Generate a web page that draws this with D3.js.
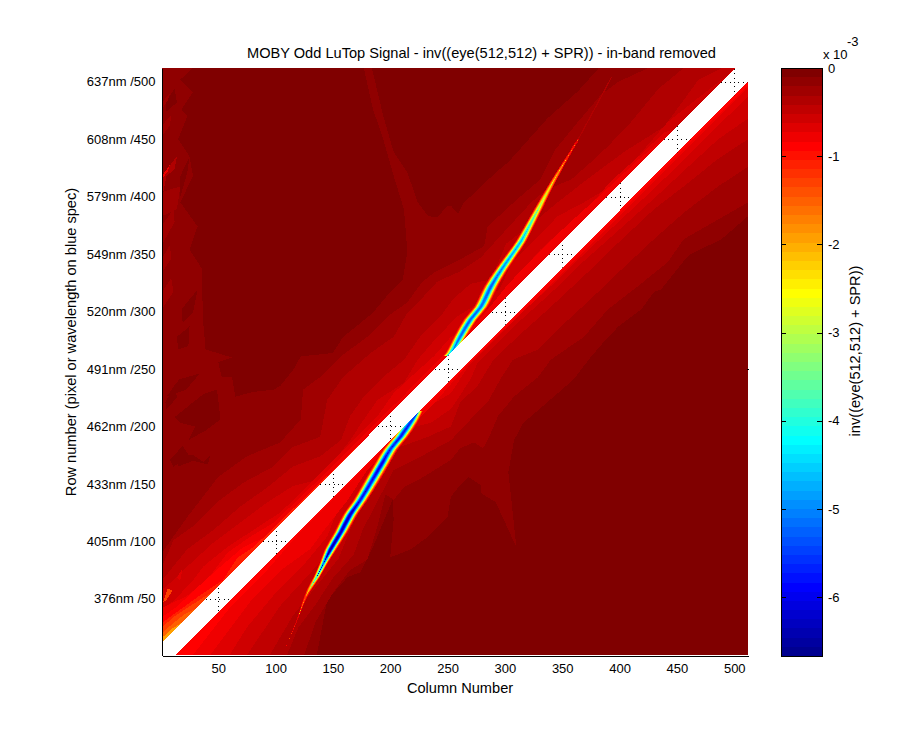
<!DOCTYPE html>
<html><head><meta charset="utf-8">
<script src="https://cdn.jsdelivr.net/npm/d3@7"></script>
<style>html,body{margin:0;background:#fff}svg{display:block}text{font-family:"Liberation Sans",Arial,sans-serif;fill:#000}</style>
</head><body><svg id="c" width="900" height="750"></svg>
<script>
const titleText="MOBY Odd LuTop Signal - inv((eye(512,512) + SPR)) - in-band removed";
const xLabelText="Column Number";
const yLabelText="Row number (pixel or wavelength on blue spec)";
const barLabelText="inv((eye(512,512) + SPR))";
const xTicks=[50,100,150,200,250,300,350,400,450,500];
const yTicks=[50,100,150,200,250,300,350,400,450,500];
const yWave=["376nm","405nm","433nm","462nm","491nm","520nm","549nm","579nm","608nm","637nm"];
const barTicks=[0,-1,-2,-3,-4,-5,-6];
const colorMin=-6.667, levels=64;
const whiteBand=[[1,12],[1,1],[13,1],[512,500],[512,512],[501,512]];

// level-0 (darkest) regions, [column,row]
const darkUL=[[28,512],[177,512],[185,476],[193,453],[203,418],[212,389],[215,352],[211,328],[200,317],[185,299],[174,290],[159,278],[150,264],[142,263],[122,261],[116,250],[104,235],[98,232],[81,230],[65,226],[62,243],[53,243],[50,256],[62,260],[39,267],[37,290],[36,319],[36,337],[25,354],[32,374],[17,395],[28,418],[25,435],[15,450],[23,470],[18,476],[28,491],[17,502]];
const darkTR=[[184,512],[382,512],[364,492],[337,468],[303,430],[292,421],[270,400],[264,395],[259,385],[253,392],[250,392],[241,382],[233,383],[224,395],[215,421],[203,439],[194,470]];
const darkLR=[[512,383],[489,363],[462,350],[456,344],[436,319],[430,317],[419,302],[399,287],[384,271],[373,258],[360,241],[337,221],[316,203],[308,188],[303,160],[305,142],[310,95],[292,134],[279,142],[279,149],[268,156],[261,149],[253,139],[250,121],[233,104],[218,93],[200,86],[203,119],[202,136],[185,95],[174,73],[163,69],[145,49],[136,1],[512,1]];
const darkPatches=[
 [[12,208],[28,221],[37,228],[49,232],[52,206],[40,197],[24,188],[30,200],[17,203]],
 [[14,174],[28,175],[37,169],[43,175],[41,167],[28,170],[15,165]],
 [[4,221],[12,236],[14,225],[5,215]],
 [[18,302],[32,319],[28,299],[19,290]],
 [[14,278],[25,287],[24,270],[15,267]],
 [[4,482],[12,494],[14,482],[5,474]],
 [[17,418],[25,435],[23,421],[17,400]],
 [[8,171],[19,183],[25,174],[11,165]],
 [[5,226],[16,241],[34,246],[22,232]]
];
// small patches on the left edge
const leftPatchA=[[1,417],[10,430],[14,435],[12,424],[5,418],[1,398]];
const leftPatchB=[[1,404],[17,409],[14,389],[1,383]];
const leftPatchC=[[1,462],[9,471],[8,462],[1,453]];
const leftPatchD=[[1,482],[8,490],[6,484],[1,476]];
const leftPatchE=[[1,375],[11,389],[12,378],[1,358]];
const leftPatchF=[[1,346],[8,358],[9,346],[1,334]];
const leftPatchG=[[1,317],[9,329],[11,317],[1,302]];
const leftSpot=[[1,418],[8,428],[6,422],[1,415]];
const cornerSpotA=[[2,47],[6,59],[10,57],[5,49]];
const cornerSpotB=[[14,68],[19,77],[17,66]];

// contours below the diagonal
const lowerL2=[[512,395],[456,363],[442,343],[416,322],[390,302],[369,278],[340,258],[329,243],[308,226],[294,209],[285,188],[281,181],[273,186],[261,181],[253,171],[229,156],[212,147],[203,136],[196,141],[188,110],[180,84],[165,75],[150,55],[135,30],[125,1]];
const lowerL3=[[512,426],[486,409],[456,386],[430,363],[399,334],[375,311],[349,287],[329,267],[307,258],[296,241],[285,221],[270,206],[253,188],[229,175],[203,162],[189,135],[176,110],[168,88],[150,68],[135,45],[120,25],[110,1]];
const lowerL4=[[512,450],[486,433],[456,409],[430,389],[399,360],[369,331],[340,304],[311,278],[290,258],[276,235],[261,221],[253,200],[233,191],[203,180],[192,156],[174,130],[163,105],[155,85],[135,60],[115,35],[95,1]];
const lowerL5=[[512,468],[486,450],[462,428],[434,402],[404,375],[369,344],[340,316],[311,290],[285,264],[276,255],[270,241],[253,215],[235,203],[203,195],[189,168],[174,142],[157,119],[150,95],[130,72],[105,45],[75,1]];
const lowerL6=[[512,487],[486,462],[456,432],[428,405],[399,378],[369,350],[340,322],[311,296],[288,272],[268,252],[253,229],[233,217],[203,197],[185,174],[171,151],[154,127],[145,104],[125,80],[100,55],[75,25],[60,1]];
const lowerL7=[[512,495],[400,383],[340,323],[268,254],[240,222],[200,182],[180,162],[163,136],[145,113],[130,93],[105,75],[80,50],[43,1]];
const lowerL8=[[512,497],[400,386],[369,355],[300,286],[240,226],[120,106],[90,72],[60,42],[28,1]];
// contours above the diagonal
const upperL2=[[425,512],[399,500],[384,489],[362,463],[344,441],[331,415],[311,398],[285,374],[282,357],[264,347],[240,335],[228,326],[215,308],[198,296],[180,278],[157,261],[139,243],[124,232],[122,206],[104,186],[75,174],[50,156],[23,121],[1,90]];
const upperL3=[[456,512],[434,494],[410,465],[390,444],[375,430],[358,415],[336,406],[323,395],[299,369],[279,347],[261,335],[241,326],[229,313],[215,299],[203,278],[183,264],[159,243],[145,223],[139,191],[115,182],[98,165],[72,151],[49,134],[28,113],[11,101],[1,78]];
const upperL4=[[489,512],[469,502],[439,461],[404,439],[369,413],[346,395],[323,376],[301,359],[288,328],[270,324],[255,311],[244,296],[226,278],[212,258],[194,243],[177,226],[165,209],[157,188],[139,174],[115,165],[93,147],[69,130],[46,110],[23,93],[1,66]];
const upperL5=[[502,512],[489,502],[442,465],[416,435],[399,413],[369,395],[346,383],[327,363],[307,344],[295,319],[275,306],[259,296],[241,278],[224,258],[212,238],[189,223],[177,206],[165,188],[139,154],[115,148],[93,134],[69,116],[46,99],[23,78],[11,66],[1,58]];
const upperL6=[[500,512],[456,461],[439,456],[421,439],[392,413],[369,386],[351,372],[331,354],[311,331],[296,311],[276,296],[264,282],[253,278],[238,261],[218,243],[203,229],[189,209],[150,170],[125,145],[104,125],[81,110],[58,95],[37,78],[28,66],[12,49],[1,40]];
const upperL7=[[445,456],[416,432],[384,402],[355,376],[325,347],[303,324],[282,298],[264,280],[244,260],[224,240],[209,224],[194,210],[170,186],[140,156],[115,132],[98,116],[78,104],[58,90],[40,66],[22,52],[1,42]];
const upperL8=[[98,107],[72,95],[52,78],[32,60],[14,43],[1,34]];
const upperL10=[[81,95],[67,86],[54,66],[37,55],[1,29]];
const upperL12=[[45,56],[37,51],[23,42],[11,34],[1,25]];
const upperL14=[[30,41],[20,36],[10,28],[1,20]];
const upperL16=[[18,29],[10,24],[1,16]];

// spectral-line ridges: [column, row, peak value, gaussian sigma in columns]
const ridgeUpper=[[249,261,-3.5,2],[253,264,-4.5,2.5],[261,278,-5.2,2.8],[270,293,-5.3,3],[279,304,-5.2,3],[288,322,-5.3,3],[296,335,-5,2.8],[305,348,-4.8,2.6],[314,361,-4.6,2.4],[321,374,-4,2.2],[329,389,-3.2,2],[337,404,-2.4,1.7],[346,420,-1.8,1.4],[355,435,-1.1,1.2],[364,450,-0.7,1]];
const ridgeLower=[[225,213,-3.5,2],[218,204,-5.6,3],[209,191,-5.8,3.2],[200,180,-5.6,3.2],[193,168,-6,3.2],[183,151,-5.8,3.2],[174,136,-5.8,3],[165,123,-6.3,3],[157,108,-6.3,2.8],[148,93,-6.5,2.5],[142,81,-5.2,1.8],[136,69,-4,1.5],[130,59,-2.2,1.4],[126,51,-1.3,1.2],[119,32,-0.7,1],[107,3,-0.4,0.8]];
const tailUpper=[[364,450],[378,476],[393,504]];
const tailValue=-0.4;

const layers=[
 [-0.26,lowerL2,"lo"],[-0.36,lowerL3,"lo"],[-0.47,lowerL4,"lo"],[-0.57,lowerL5,"lo"],[-0.68,lowerL6,"lo"],[-0.78,lowerL7,"lo"],[-0.89,lowerL8,"lo"],
 [-0.26,upperL2,"up"],[-0.36,upperL3,"up"],[-0.47,upperL4,"up"],[-0.57,upperL5,"up"],[-0.68,upperL6,"up"],[-0.78,upperL7,"up"],[-0.89,upperL8,"up"],[-1.1,upperL10,"up"],[-1.3,upperL12,"up"],[-1.55,upperL14,"up"],[-1.95,upperL16,"up"],
 [-0.26,leftPatchB,""],[-0.26,leftPatchC,""],[-0.26,leftPatchD,""],[-0.26,leftPatchE,""],[-0.26,leftPatchF,""],[-0.26,leftPatchG,""],[-0.36,leftPatchA,""],[-0.78,leftSpot,""],[-1.3,cornerSpotA,""],[-0.68,cornerSpotB,""]
];

const svg=d3.select("#c");
const x=d3.scaleLinear([1,512],[162,748]);
const y=d3.scaleLinear([1,512],[655,68]);
const step=-colorMin/levels;
const jet=d3.scaleLinear([0,8,24,40,56,64],["#000080","#0000ff","#00ffff","#ffff00","#ff0000","#800000"]);
const colorOf=v=>jet(levels-Math.min(levels-1,Math.floor(-v/step)));
const line=d3.line().x(d=>x(d[0])).y(d=>y(d[1]));
const poly=p=>line(p)+"Z";
const smooth=d3.line().x(d=>x(d[0])).y(d=>y(d[1])).curve(d3.curveCatmullRom);

const plot=svg.append("g").attr("shape-rendering","crispEdges");
plot.append("rect").attr("x",x(1)).attr("y",y(512)).attr("width",x(512)-x(1)).attr("height",y(1)-y(512)).attr("fill",colorOf(-0.15));
plot.selectAll("path.dark").data([darkUL,darkTR,darkLR,...darkPatches]).join("path").attr("class","dark").attr("d",poly).attr("fill",colorOf(-0.05));
plot.selectAll("path.band").data(layers).join("path").attr("class","band")
  .attr("d",d=>poly(d[2]?d[1].concat([[1,1],[512,512]]):d[1])).attr("fill",d=>colorOf(d[0]));
plot.append("path").attr("d",smooth(tailUpper)).attr("fill","none").attr("stroke",colorOf(tailValue)).attr("stroke-width",1.2);

// ridges: nested level outlines from each cross-section's peak and width
function ridgeOutline(r,v){
  const hw=p=>Math.abs(p[2])>Math.abs(v)?p[3]*Math.sqrt(2*Math.log(p[2]/v)):0;
  return r.map(p=>[p[0]-hw(p),p[1]]).concat(r.slice().reverse().map(p=>[p[0]+hw(p),p[1]]));
}
const ridgeLevels=d3.range(6,levels).map(t=>-t*step);
[ridgeUpper,ridgeLower].forEach(r=>{
  ridgeLevels.forEach(v=>{
    if(d3.min(r,p=>p[2])<v) plot.append("path").attr("d",smooth(ridgeOutline(r,v))+"Z").attr("fill",colorOf(v-step/2));
  });
});
plot.append("path").attr("d",poly(whiteBand)).attr("fill","#fff");

// dotted grid shows only through the removed band
svg.append("clipPath").attr("id","bandClip").append("path").attr("d",poly(whiteBand));
const grid=svg.append("g").attr("clip-path","url(#bandClip)").attr("shape-rendering","crispEdges");
grid.selectAll("line.v").data(xTicks).join("line").attr("class","v").attr("x1",d=>Math.round(x(d))+.5).attr("x2",d=>Math.round(x(d))+.5).attr("y1",y(1)).attr("y2",y(512)).attr("stroke","#000").attr("stroke-dasharray","1 3.4");
grid.selectAll("line.h").data(yTicks).join("line").attr("class","h").attr("y1",d=>Math.round(y(d))+.5).attr("y2",d=>Math.round(y(d))+.5).attr("x1",x(1)).attr("x2",x(512)).attr("stroke","#000").attr("stroke-dasharray","1 3.4");

// axes
const ax=svg.append("g").attr("transform","translate(0,655.5)").call(d3.axisBottom(x).tickValues(xTicks).tickSize(0).tickPadding(8));
const ay=svg.append("g").attr("transform","translate(161.5,0)").call(d3.axisLeft(y).tickValues(yTicks).tickSize(0).tickPadding(6).tickFormat((d,i)=>yWave[i]+" /"+d));
[ax,ay].forEach(g=>{g.selectAll("text").attr("fill","#000").style("font-family",'"Liberation Sans"').style("font-size","13px");g.select(".domain").attr("stroke","#000").attr("shape-rendering","crispEdges");});
svg.append("line").attr("x1",747).attr("x2",749).attr("y1",Math.round(y(250))+.5).attr("y2",Math.round(y(250))+.5).attr("stroke","#000").attr("shape-rendering","crispEdges");

// colorbar
const by=d3.scaleLinear([0,colorMin],[68,656]);
const bar=svg.append("g").attr("shape-rendering","crispEdges");
bar.selectAll("rect").data(d3.range(levels)).join("rect").attr("x",781).attr("width",41)
  .attr("y",t=>by(-t*step)).attr("height",t=>by(-(t+1)*step)-by(-t*step)+.6).attr("fill",t=>colorOf(-(t+.5)*step));
bar.append("rect").attr("x",781).attr("y",68).attr("width",41).attr("height",588).attr("fill","none").attr("stroke","#000");
barTicks.slice(1).forEach(v=>{
  bar.append("line").attr("x1",781).attr("x2",786).attr("y1",Math.round(by(v))+.5).attr("y2",Math.round(by(v))+.5).attr("stroke","#000");
  bar.append("line").attr("x1",817).attr("x2",822).attr("y1",Math.round(by(v))+.5).attr("y2",Math.round(by(v))+.5).attr("stroke","#000");
});
svg.append("g").attr("transform","translate(822,0)").call(d3.axisRight(by).tickValues(barTicks).tickSize(0).tickPadding(6).tickFormat(d=>String(d))).call(g=>{g.select(".domain").remove();g.selectAll("text").attr("fill","#000").style("font-family",'"Liberation Sans"').style("font-size","13px");});
svg.append("text").attr("x",823).attr("y",59).style("font-size","13px").text("x 10");
svg.append("text").attr("x",847).attr("y",46).style("font-size","13px").text("-3");

// titles
const labelSize="14.6px";
svg.append("text").attr("x",481.5).attr("y",58).attr("text-anchor","middle").style("font-size",labelSize).text(titleText);
svg.append("text").attr("x",460).attr("y",693).attr("text-anchor","middle").style("font-size",labelSize).text(xLabelText);
svg.append("text").attr("transform","translate(76,342) rotate(-90)").attr("text-anchor","middle").style("font-size",labelSize).text(yLabelText);
svg.append("text").attr("transform","translate(860,351) rotate(-90)").attr("text-anchor","middle").style("font-size",labelSize).text(barLabelText);
</script></body></html>
